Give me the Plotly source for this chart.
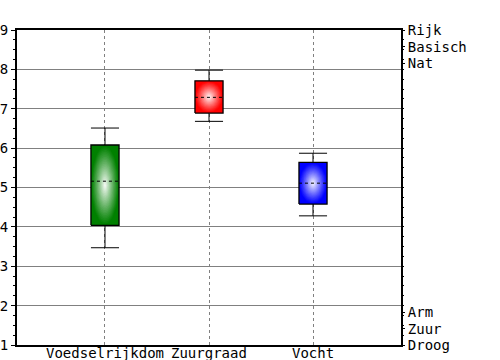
import numpy as np
import plotly.graph_objects as go

categories = ["Voedselrijkdom", "Zuurgraad", "Vocht"]
q1 = [4.04, 6.89, 4.58]
median = [5.16, 7.29, 5.11]
q3 = [6.08, 7.71, 5.64]
lower = [3.47, 6.68, 4.28]
upper = [6.51, 7.98, 5.87]
colors = [(0, 128, 0), (255, 0, 0), (0, 0, 255)]
right_labels = ["Rijk", "Basisch", "Nat", "Arm", "Zuur", "Droog"]
right_pos = [9.0, 8.57, 8.15, 1.83, 1.41, 1.0]

FONT = "DejaVu Sans Mono"
W = 0.27  # box width in category units
N = 24

fig = go.Figure()
xs = list(range(len(categories)))
for i in xs:
    lo, a, m, b, hi = lower[i], q1[i], median[i], q3[i], upper[i]
    c = colors[i]
    # whiskers
    fig.add_trace(go.Scatter(x=[i, i, None, i, i], y=[hi, b, None, a, lo], mode="lines",
                             line=dict(color="black", width=1), hoverinfo="skip", showlegend=False))
    fig.add_trace(go.Scatter(x=[i - W / 2, i + W / 2, None, i - W / 2, i + W / 2],
                             y=[hi, hi, None, lo, lo], mode="lines",
                             line=dict(color="black", width=1), hoverinfo="skip", showlegend=False))
    # base rect
    fig.add_trace(go.Scatter(x=[i - W / 2, i + W / 2, i + W / 2, i - W / 2, i - W / 2],
                             y=[a, a, b, b, a], mode="lines", fill="toself",
                             fillcolor="rgb(%d,%d,%d)" % c, line=dict(width=0),
                             hoverinfo="skip", showlegend=False))
    # radial gradient
    cx, cy = i, (a + b) / 2
    rx, ry = W / 2, (b - a) / 2
    th = np.linspace(0, 2 * np.pi, 60)
    for k in range(N):
        f = 1 - k / N
        w = (1 - f) ** 1.1
        col = tuple(int(round(cc + (255 - cc) * w)) for cc in c)
        fig.add_trace(go.Scatter(x=cx + rx * f * np.cos(th), y=cy + ry * f * np.sin(th),
                                 mode="lines", fill="toself", fillcolor="rgb(%d,%d,%d)" % col,
                                 line=dict(width=0), hoverinfo="skip", showlegend=False))
    # outline
    fig.add_trace(go.Scatter(x=[i - W / 2, i + W / 2, i + W / 2, i - W / 2, i - W / 2],
                             y=[a, a, b, b, a], mode="lines",
                             line=dict(color="black", width=1.3), hoverinfo="skip", showlegend=False))
    # median
    fig.add_trace(go.Scatter(x=[i - W / 2, i + W / 2], y=[m, m], mode="lines",
                             line=dict(color="black", width=1, dash="3px,3px"),
                             hoverinfo="skip", showlegend=False))
    # category label
    fig.add_annotation(x=i, xref="x", y=0, yref="paper", yanchor="top", yshift=2,
                       text=categories[i], showarrow=False,
                       font=dict(family=FONT, size=14, color="black"))

# dummy trace for y2
fig.add_trace(go.Scatter(x=[0], y=[5], yaxis="y2", mode="markers", marker=dict(opacity=0),
                         hoverinfo="skip", showlegend=False))

fig.update_layout(
    width=500, height=360,
    margin=dict(l=17, r=99, t=30, b=15),
    paper_bgcolor="white", plot_bgcolor="white",
    font=dict(family=FONT, size=14, color="black"),
    xaxis=dict(range=[-0.846, 2.846], tickvals=xs, showticklabels=False,
               showgrid=True, gridcolor="#808080", griddash="3px,3px", gridwidth=1,
               showline=True, linecolor="black", linewidth=2, mirror=True,
               ticks="", ticklen=0, zeroline=False, automargin=False),
    yaxis=dict(range=[1, 9], tickvals=list(range(1, 10)), showgrid=True, gridcolor="#808080",
               gridwidth=1, showline=True, linecolor="black", linewidth=2, mirror=True,
               ticks="outside", ticklen=4, tickcolor="black", zeroline=False, automargin=False,
               minor=dict(dtick=0.25, ticks="outside", ticklen=2, tickcolor="black", showgrid=False),
               tickfont=dict(family=FONT, size=14)),
    yaxis2=dict(range=[1, 9], overlaying="y", side="right", tickvals=right_pos, ticktext=right_labels,
                showgrid=False, zeroline=False, ticks="outside", ticklen=3, tickcolor="black",
                minor=dict(dtick=0.25, ticks="outside", ticklen=2, tickcolor="black"),
                automargin=False, tickfont=dict(family=FONT, size=14)),
)

fig.write_html("out.html")
